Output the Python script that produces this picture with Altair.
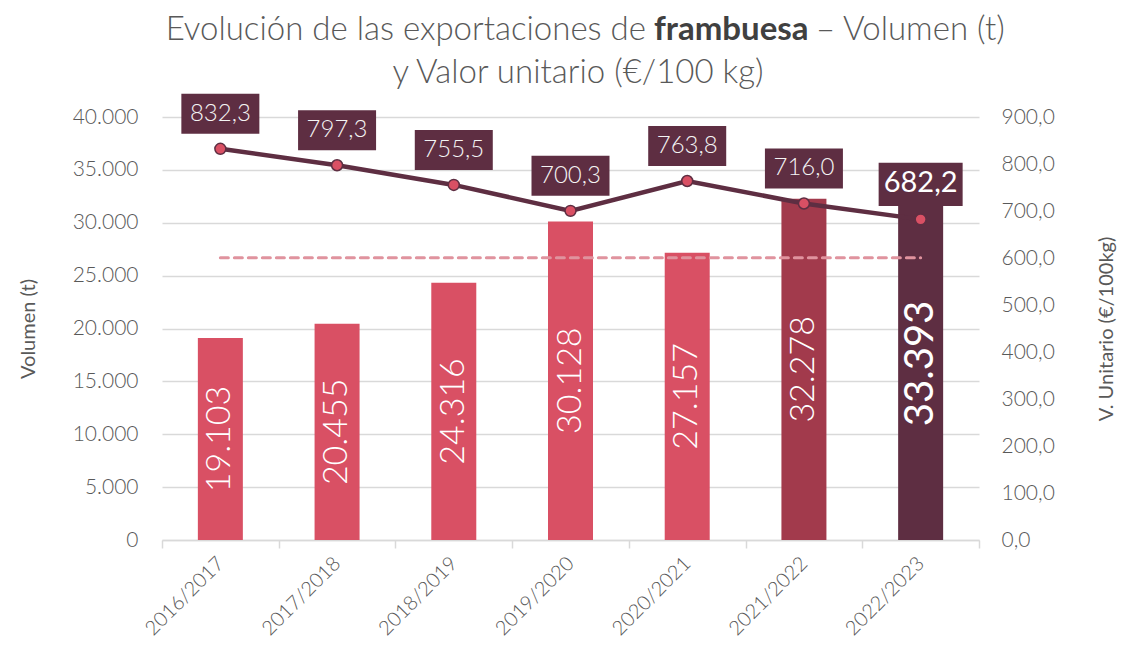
import altair as alt
import pandas as pd

campanas = ["2016/2017", "2017/2018", "2018/2019", "2019/2020", "2020/2021", "2021/2022", "2022/2023"]
volumen = [19103, 20455, 24316, 30128, 27157, 32278, 33393]
valor_unitario = [832.3, 797.3, 755.5, 700.3, 763.8, 716.0, 682.2]
left_ticks = [0, 5000, 10000, 15000, 20000, 25000, 30000, 35000, 40000]
right_ticks = [0, 100, 200, 300, 400, 500, 600, 700, 800, 900]

bar_colors = ["#D95064", "#D95064", "#D95064", "#D95064", "#D95064", "#A23A4C", "#5E2E42"]

df = pd.DataFrame({"campana": campanas, "volumen": volumen, "valor": valor_unitario})

W, H = 817, 423
FONT = "Lato"
GRAY = "#595959"
DARK = "#5E2E42"
PINK = "#D95064"
LAST = campanas[-1]
is_last = f"datum.campana == '{LAST}'"

base = alt.Chart(df)

x_enc = alt.X(
    "campana:N", sort=campanas,
    scale=alt.Scale(paddingInner=0, paddingOuter=0),
    axis=alt.Axis(
        title=None, tickBand="extent", labelAngle=315, labelAlign="right",
        labelBaseline="middle", labelFontSize=20, labelColor=GRAY, labelFont=FONT,
        labelFontWeight=300, labelPadding=12, domainColor="#D9D9D9", domainWidth=1.5,
        tickColor="#D9D9D9", tickWidth=1.5, tickSize=8,
    ),
)

left_scale = alt.Scale(domain=[0, 40000], nice=False)
right_scale = alt.Scale(domain=[0, 900], nice=False)

y_left = alt.Y(
    "volumen:Q", scale=left_scale,
    axis=alt.Axis(
        orient="left", values=left_ticks,
        labelExpr="replace(format(datum.value, ',d'), ',', '.')",
        labelFontSize=21, labelColor=GRAY, labelFont=FONT, labelFontWeight=300,
        labelPadding=24, domain=False, ticks=False, grid=True, gridColor="#D9D9D9",
        gridWidth=1.5, title="Volumen (t)", titleFont=FONT, titleFontSize=20,
        titleColor=GRAY, titleFontWeight="normal", titleX=-134, titleY=H / 2,
        titleAlign="center", titleBaseline="middle", titleAngle=270,
    ),
)

bars = base.mark_bar(size=45).encode(
    x=x_enc, y=y_left,
    color=alt.Color("campana:N", scale=alt.Scale(domain=campanas, range=bar_colors), legend=None),
)

avg = base.transform_joinaggregate(media="mean(volumen)").mark_line(
    color="#E0939E", strokeWidth=3, strokeDash=[8, 6], strokeCap="round"
).encode(x=x_enc, y=alt.Y("media:Q", scale=left_scale, axis=None))

bar_lab_base = base.transform_calculate(
    mid="datum.volumen / 2", lab="replace(format(datum.volumen, ',d'), ',', '.')"
)
bar_labels = bar_lab_base.transform_filter(f"!({is_last})").mark_text(
    angle=270, align="center", baseline="middle", font=FONT, fontSize=34,
    fontWeight=300, color="white",
).encode(x=x_enc, y=alt.Y("mid:Q", scale=left_scale, axis=None), text="lab:N")
bar_label_last = bar_lab_base.transform_filter(is_last).mark_text(
    angle=270, align="center", baseline="middle", font=FONT, fontSize=40,
    fontWeight=400, color="white",
).encode(x=x_enc, y=alt.Y("mid:Q", scale=left_scale, axis=None), text="lab:N")

one = alt.Data(values=[{"k": 1}])
TY1, TY2 = -87, -44
TFS = 33
t1 = alt.Chart(one).mark_text(
    text="Evolución de las exportaciones de", align="right", baseline="middle",
    font=FONT, fontSize=TFS, fontWeight=300, color=GRAY,
).encode(x=alt.value(484), y=alt.value(TY1))
t2 = alt.Chart(one).mark_text(
    text="frambuesa", align="left", baseline="middle",
    font=FONT, fontSize=TFS, fontWeight="bold", color="#404040",
).encode(x=alt.value(492), y=alt.value(TY1))
t3 = alt.Chart(one).mark_text(
    text="– Volumen (t)", align="left", baseline="middle",
    font=FONT, fontSize=TFS, fontWeight=300, color=GRAY,
).encode(x=alt.value(654), y=alt.value(TY1))
t4 = alt.Chart(one).mark_text(
    text="y Valor unitario (€/100 kg)", align="center", baseline="middle",
    font=FONT, fontSize=TFS, fontWeight=300, color=GRAY,
).encode(x=alt.value(416), y=alt.value(TY2))

y_right = alt.Y(
    "valor:Q", scale=right_scale,
    axis=alt.Axis(
        orient="right", values=right_ticks,
        labelExpr="replace(format(datum.value, '.1f'), '.', ',')",
        labelFontSize=21, labelColor=GRAY, labelFont=FONT, labelFontWeight=300,
        labelPadding=22, domain=False, ticks=False, grid=False,
        title="V. Unitario (€/100kg)", titleFont=FONT, titleFontSize=20,
        titleColor=GRAY, titleFontWeight="normal", titleX=127, titleY=H / 2,
        titleAlign="center", titleBaseline="middle", titleAngle=270,
    ),
)
y_right_na = alt.Y("valor:Q", scale=right_scale, axis=None)

line = base.mark_line(color=DARK, strokeWidth=4.5).encode(x=x_enc, y=y_right)
points = base.mark_point(
    filled=True, fill=PINK, stroke=DARK, strokeWidth=1.5, opacity=1, size=120,
).encode(x=x_enc, y=y_right_na)

box_path = "M-1,-0.513L1,-0.513L1,0.513L-1,0.513Z"
boxes = base.mark_point(
    shape=box_path, filled=True, fill=DARK, opacity=1, strokeWidth=0, yOffset=-35,
).encode(
    x=x_enc, y=y_right_na,
    size=alt.condition(is_last, alt.value(7056), alt.value(6084)),
)

val_lab_base = base.transform_calculate(lab="replace(format(datum.valor, '.1f'), '.', ',')")
val_labels = val_lab_base.transform_filter(f"!({is_last})").mark_text(
    align="center", baseline="middle", font=FONT, fontSize=24, fontWeight=300,
    color="#F4F4F4", yOffset=-35,
).encode(x=x_enc, y=y_right_na, text="lab:N")
val_label_last = val_lab_base.transform_filter(is_last).mark_text(
    align="center", baseline="middle", font=FONT, fontSize=29, fontWeight=400,
    color="white", yOffset=-36,
).encode(x=x_enc, y=y_right_na, text="lab:N")

chart = alt.layer(
    bars, avg, bar_labels, bar_label_last,
    line, points, boxes, val_labels, val_label_last,
    t1, t2, t3, t4,
).resolve_scale(y="independent").properties(
    width=W, height=H,
    padding={"left": 154, "top": 109, "right": 138, "bottom": 104},
    autosize=alt.AutoSizeParams(type="none"),
).configure_view(stroke=None)

chart.save("out.html", embed_options={"renderer": "svg", "actions": False})
